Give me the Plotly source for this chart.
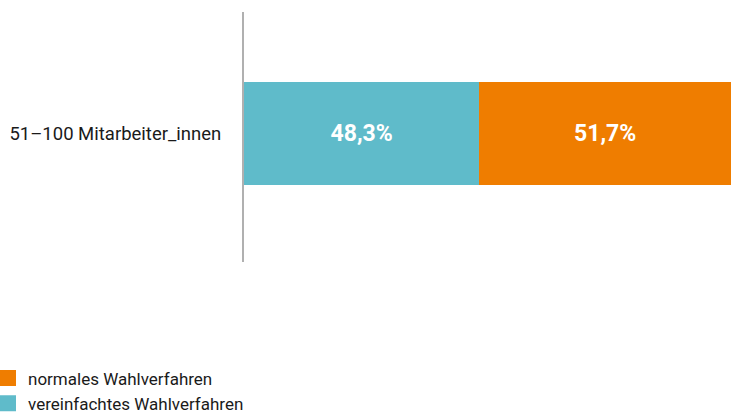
import plotly.graph_objects as go

categories = ["51–100 Mitarbeiter_innen"]
series_names = ["vereinfachtes Wahlverfahren", "normales Wahlverfahren"]
vereinfacht = [48.3]
normal = [51.7]
text_labels_v = ["48,3%"]
text_labels_n = ["51,7%"]

TEAL = "#5fbbca"
ORANGE = "#ef7d00"
FONT = "Roboto"

fig = go.Figure()
fig.add_trace(go.Bar(
    y=categories, x=vereinfacht, orientation="h", name=series_names[0],
    marker=dict(color=TEAL, line=dict(width=0)), width=0.412,
    text=text_labels_v, textposition="inside", insidetextanchor="middle",
    textfont=dict(family=FONT, size=23, color="white", weight="bold"),
    showlegend=False, hoverinfo="skip",
))
fig.add_trace(go.Bar(
    y=categories, x=normal, orientation="h", name=series_names[1],
    marker=dict(color=ORANGE, line=dict(width=0)), width=0.412,
    text=text_labels_n, textposition="inside", insidetextanchor="middle",
    textfont=dict(family=FONT, size=23, color="white", weight="bold"),
    showlegend=False, hoverinfo="skip",
))
# legend entries (orange first)
for name, col in [(series_names[1], ORANGE), (series_names[0], TEAL)]:
    fig.add_trace(go.Scatter(
        x=[None], y=[None], mode="markers", name=name,
        marker=dict(symbol="square", size=18, color=col),
        showlegend=True,
    ))

fig.update_layout(
    width=731, height=415,
    margin=dict(l=244, r=0, t=12, b=153, autoexpand=False),
    barmode="stack",
    plot_bgcolor="white", paper_bgcolor="white",
    font=dict(family=FONT, size=17, color="#1a1a1a"),
    xaxis=dict(range=[0, 100], visible=False, fixedrange=True),
    yaxis=dict(range=[-0.514, 0.486], showline=True, linecolor="#b0b0b0", linewidth=2,
               ticks="", tickfont=dict(size=18.5, color="#1a1a1a"), ticklen=0,
               showgrid=False, zeroline=False, fixedrange=True),
    legend=dict(orientation="v", x=(-12 - 244) / 487, xanchor="left",
                y=-159.5 / 250, yanchor="bottom", traceorder="normal",
                font=dict(size=17), itemsizing="trace", tracegroupgap=0,
                bgcolor="rgba(0,0,0,0)"),
    showlegend=True,
)
fig.update_yaxes(ticklabelstandoff=17)

fig.write_html(
    "out.html",
    config={"displayModeBar": False},
    post_script="document.body.style.margin='0';document.body.style.overflow='hidden';",
)
